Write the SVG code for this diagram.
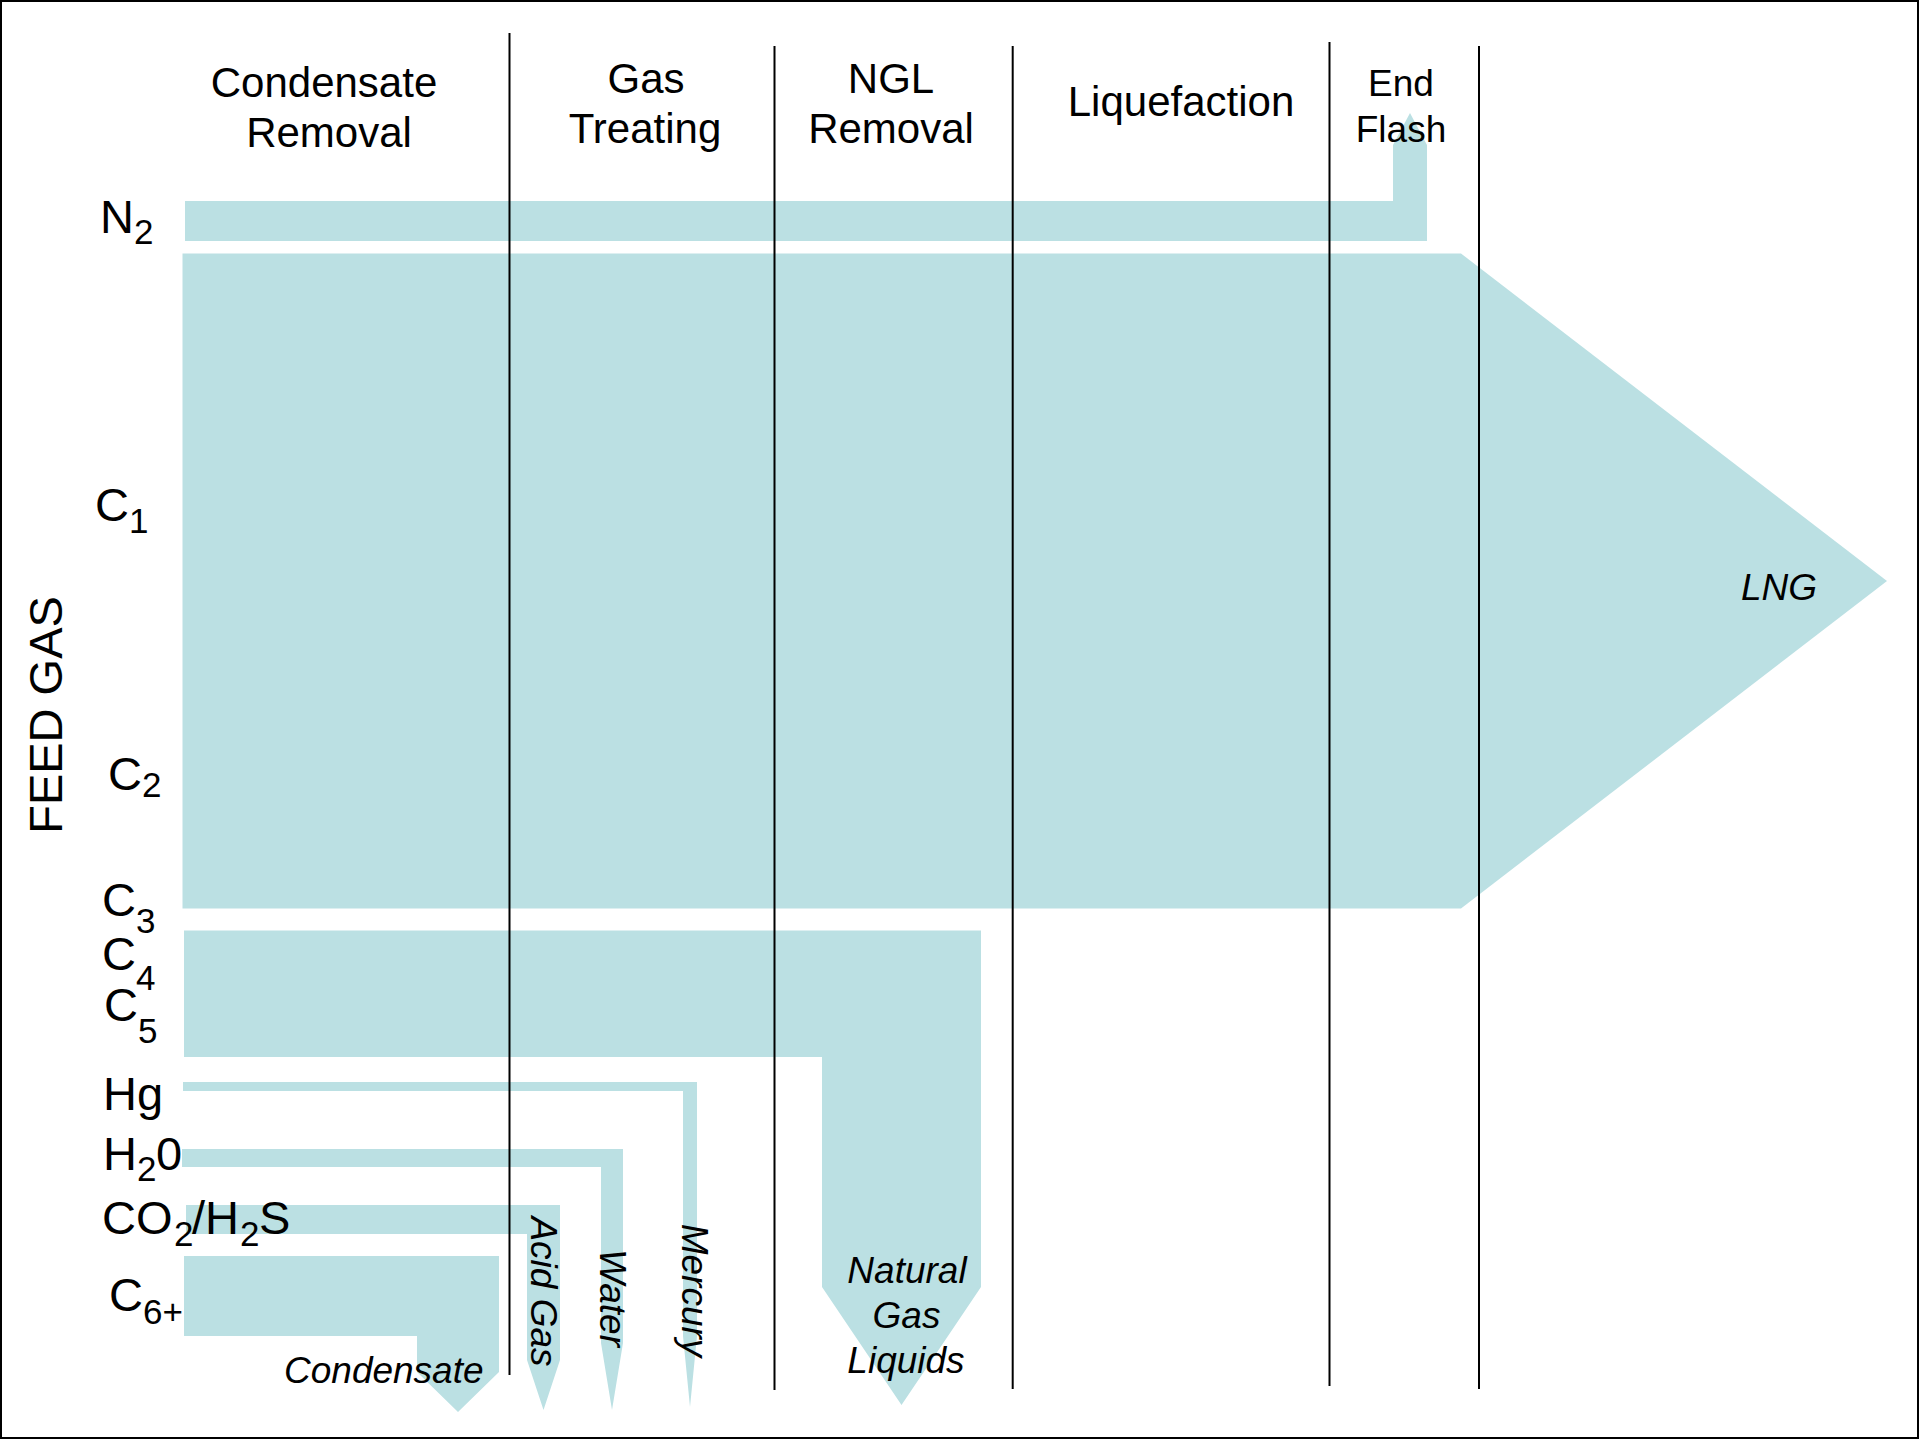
<svg xmlns="http://www.w3.org/2000/svg" width="1920" height="1440" viewBox="0 0 1920 1440">
<style>
.band{fill:#BBE0E3;stroke:none}
.div{stroke:#000;stroke-width:2;fill:none}
text{font-family:"Liberation Sans",Arial,sans-serif;fill:#000}
.hdr{font-size:42px;text-anchor:middle}
.hdr2{font-size:37px;text-anchor:middle}
.lbl{font-size:47px}
.sub{font-size:35px}
.out{font-size:37px;font-style:italic}
</style>
<rect x="1" y="1" width="1917" height="1437" fill="#fff" stroke="#000" stroke-width="2"/>
<g id="connectors">
  <g id="stream-n2"><polygon class="band" points="185,201 1393,201 1393,145 1410,113 1427,145 1427,241 185,241"/></g>
  <g id="stream-c1c2"><polygon class="band" points="182.5,253.5 1461,253.5 1887,581 1461,908.5 182.5,908.5"/></g>
  <g id="stream-ngl"><polygon class="band" points="184,930.5 981,930.5 981,1287 901.5,1405 822,1287 822,1057 184,1057"/></g>
  <g id="stream-hg"><polygon class="band" points="183,1082 697,1082 697,1336 690,1407 683,1336 683,1091 183,1091"/></g>
  <g id="stream-h2o"><polygon class="band" points="182,1149 623,1149 623,1343 612,1410 601,1343 601,1167 182,1167"/></g>
  <g id="stream-acid"><polygon class="band" points="186,1205 560,1205 560,1360 543.5,1410 527,1360 527,1234 186,1234"/></g>
  <g id="stream-c6"><polygon class="band" points="184,1256 499,1256 499,1372 458,1412 417,1372 417,1336 184,1336"/></g>
</g>
<g id="dividers">
  <line class="div" x1="509.5" y1="33" x2="509.5" y2="1375"/>
  <line class="div" x1="774.5" y1="46" x2="774.5" y2="1390"/>
  <line class="div" x1="1012.7" y1="46" x2="1012.7" y2="1389"/>
  <line class="div" x1="1329.5" y1="42" x2="1329.5" y2="1386"/>
  <line class="div" x1="1479" y1="46" x2="1479" y2="1389"/>
</g>
<g id="headers">
  <g id="hdr-condensate"><text class="hdr" x="324" y="96.5">Condensate</text><text class="hdr" x="329" y="146.5">Removal</text></g>
  <g id="hdr-gas"><text class="hdr" x="646" y="92.5">Gas</text><text class="hdr" x="645" y="143">Treating</text></g>
  <g id="hdr-ngl"><text class="hdr" x="891" y="92.5">NGL</text><text class="hdr" x="891" y="143">Removal</text></g>
  <g id="hdr-liq"><text class="hdr" x="1181" y="115.5">Liquefaction</text></g>
  <g id="hdr-endflash"><text class="hdr2" x="1401" y="96">End</text><text class="hdr2" x="1401" y="141.5">Flash</text></g>
</g>
<g id="feed-labels">
  <text id="feed-gas" class="lbl" transform="translate(62,715) rotate(-90)" text-anchor="middle">FEED GAS</text>
  <text id="lbl-n2" class="lbl"><tspan x="100" y="233">N</tspan><tspan class="sub" x="134" y="244">2</tspan></text>
  <text id="lbl-c1" class="lbl"><tspan x="95" y="521">C</tspan><tspan class="sub" x="129" y="533">1</tspan></text>
  <text id="lbl-c2" class="lbl"><tspan x="108" y="790">C</tspan><tspan class="sub" x="142" y="797">2</tspan></text>
  <text id="lbl-c3" class="lbl"><tspan x="102" y="916">C</tspan><tspan class="sub" x="136" y="933">3</tspan></text>
  <text id="lbl-c4" class="lbl"><tspan x="102" y="970">C</tspan><tspan class="sub" x="136" y="990">4</tspan></text>
  <text id="lbl-c5" class="lbl"><tspan x="104" y="1021">C</tspan><tspan class="sub" x="138" y="1043">5</tspan></text>
  <text id="lbl-hg" class="lbl" x="103" y="1110">Hg</text>
  <text id="lbl-h2o" class="lbl"><tspan x="103" y="1170">H</tspan><tspan class="sub" x="137" y="1181">2</tspan><tspan x="156" y="1170">0</tspan></text>
  <text id="lbl-co2" class="lbl"><tspan x="102" y="1234">CO</tspan><tspan class="sub" x="174" y="1246">2</tspan><tspan x="192" y="1234">/H</tspan><tspan class="sub" x="240" y="1246">2</tspan><tspan x="259" y="1234">S</tspan></text>
  <text id="lbl-c6" class="lbl"><tspan x="109" y="1311">C</tspan><tspan class="sub" x="143" y="1324">6+</tspan></text>
</g>
<g id="product-labels">
  <text id="out-lng" class="out" x="1741" y="599.5">LNG</text>
  <text id="out-cond" class="out" x="284" y="1383">Condensate</text>
  <text id="out-acid" class="out" transform="translate(531,1291.5) rotate(90)" text-anchor="middle">Acid Gas</text>
  <text id="out-water" class="out" transform="translate(600,1298) rotate(90)" text-anchor="middle">Water</text>
  <text id="out-mercury" class="out" transform="translate(682,1290.5) rotate(90)" text-anchor="middle">Mercury</text>
  <g id="out-ngl"><text class="out" x="907" y="1283" text-anchor="middle">Natural</text><text class="out" x="906.5" y="1328" text-anchor="middle">Gas</text><text class="out" x="906" y="1373" text-anchor="middle">Liquids</text></g>
</g>
</svg>
